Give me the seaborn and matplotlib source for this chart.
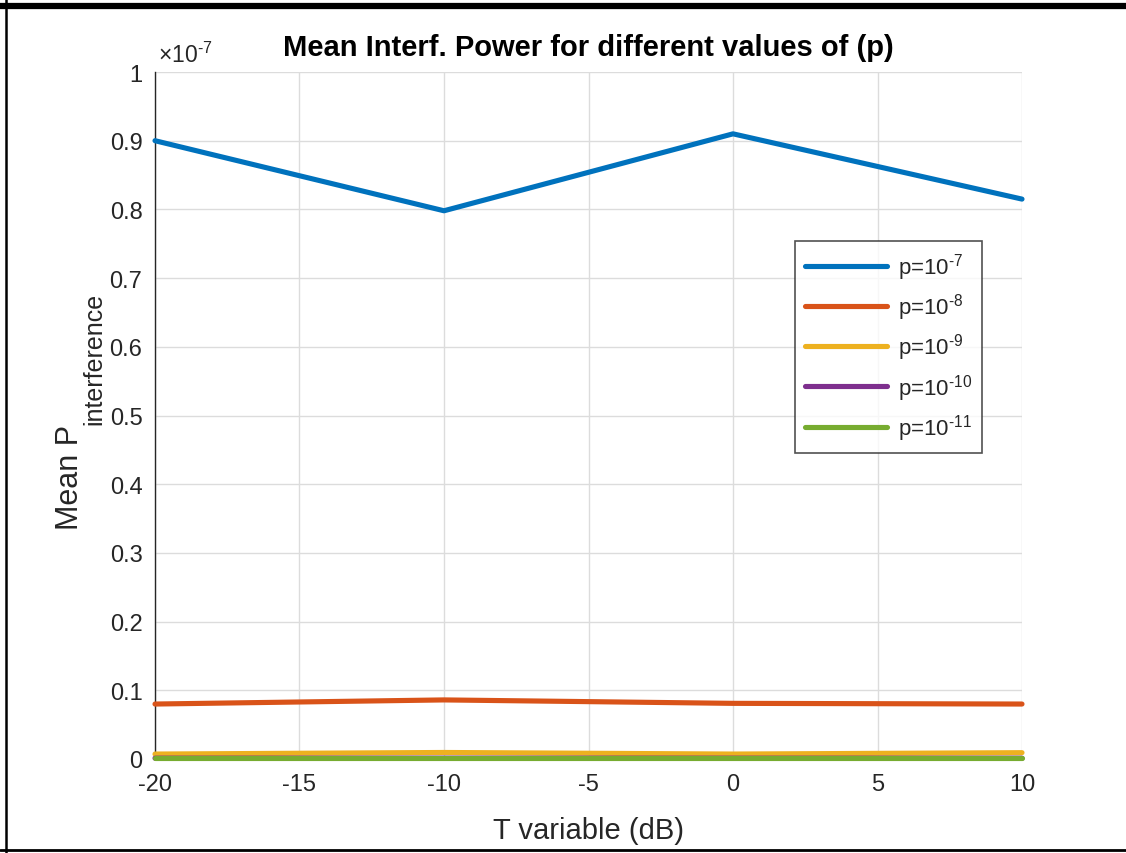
import matplotlib
matplotlib.use("Agg")
import matplotlib.pyplot as plt
import seaborn as sns
import pandas as pd
import numpy as np
from matplotlib.lines import Line2D

# ---- data (values in units of 1e-7) ----
t_db = [-20, -10, 0, 10]
p_labels = ["p=10$^{\\text{-7}}$", "p=10$^{\\text{-8}}$", "p=10$^{\\text{-9}}$",
            "p=10$^{\\text{-10}}$", "p=10$^{\\text{-11}}$"]
p7 = [0.900, 0.798, 0.910, 0.815]
p8 = [0.080, 0.086, 0.081, 0.080]
p9 = [0.0072, 0.0095, 0.0072, 0.0092]
p10 = [0.0012, 0.0013, 0.0012, 0.0012]
p11 = [0.0012, 0.0012, 0.0012, 0.0012]
colors = ["#0072BD", "#D95319", "#EDB120", "#7E2F8E", "#77AC30"]

series = [p7, p8, p9, p10, p11]
df = pd.DataFrame({
    "T": np.tile(t_db, len(series)),
    "P": np.concatenate(series),
    "p": np.repeat(p_labels, len(t_db)),
})

sns.set_theme(style="white")
plt.rcParams["font.family"] = ["Liberation Sans", "DejaVu Sans"]
plt.rcParams["mathtext.fontset"] = "custom"
plt.rcParams["mathtext.rm"] = "Liberation Sans"
plt.rcParams["mathtext.it"] = "Liberation Sans"
plt.rcParams["axes.unicode_minus"] = False

fig = plt.figure(figsize=(11.26, 8.54), dpi=100)
ax = fig.add_axes([155/1126, 1-760/854, (1022-155)/1126, (760-73)/854])

sns.lineplot(data=df, x="T", y="P", hue="p", hue_order=p_labels,
             palette=colors, linewidth=3.7, ax=ax, legend=True)
for ln in ax.lines:
    ln.set_clip_on(False)
    ln.set_zorder(3)

txt_c = "#262626"
ax.set_xlim(-20, 10)
ax.set_ylim(0, 1)
ax.set_xticks(np.arange(-20, 11, 5))
yt = np.round(np.arange(0, 1.01, 0.1), 1)
ax.set_yticks(yt)
ax.set_yticklabels([f"{v:g}" for v in yt])
ax.grid(True, color="#dcdcdc", linewidth=1)
ax.tick_params(direction="in", length=5, width=1, colors=txt_c, labelsize=17, pad=9)
ax.tick_params(axis="x", pad=10)
for s in ["top", "right"]:
    ax.spines[s].set_visible(False)
for s in ["left", "bottom"]:
    ax.spines[s].set_color(txt_c)
    ax.spines[s].set_linewidth(1)

ax.set_xlabel("T variable (dB)", fontsize=21, color=txt_c, labelpad=15)
ax.set_ylabel("")
# y label: "Mean P" with a large subscript
ax.text(-0.0975, (760-425)/687, "Mean P", transform=ax.transAxes, rotation=90,
        ha="center", va="top", fontsize=22, color=txt_c)
ax.text(-0.0705, (760-425)/687, "interference", transform=ax.transAxes, rotation=90,
        ha="center", va="bottom", fontsize=18, color=txt_c)

ax.set_title("Mean Interf. Power for different values of (p)", fontsize=21,
             fontweight="bold", color="black", pad=12)
ax.text(0.004, 1.008, "$\\times$10$^{\\text{-7}}$", transform=ax.transAxes,
        ha="left", va="bottom", fontsize=16.5, color=txt_c)

leg = ax.legend(loc="upper left", bbox_to_anchor=(0.738, 0.754), fontsize=16,
                handlelength=3.7, labelspacing=0.42, frameon=True, fancybox=False,
                borderpad=0.45, handletextpad=0.5, borderaxespad=0)
leg.get_frame().set_edgecolor("#262626")
leg.get_frame().set_linewidth(1.2)
for h in leg.legend_handles:
    h.set_linewidth(3.7)

# figure border
W, H = 1126, 854
fig.add_artist(Line2D([0, 1], [1-6.5/H, 1-6.5/H], color="black", linewidth=4.5, transform=fig.transFigure))
fig.add_artist(Line2D([6/W, 6/W], [0, 1], color="black", linewidth=1.8, transform=fig.transFigure))
fig.add_artist(Line2D([0, 1], [1-850.5/H, 1-850.5/H], color="black", linewidth=2, transform=fig.transFigure))

fig.savefig("out.png", dpi=100, facecolor="white")
